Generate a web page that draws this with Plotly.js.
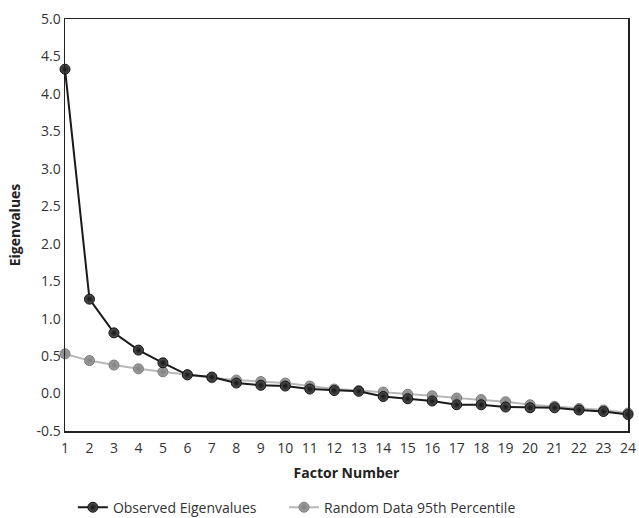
<!DOCTYPE html>
<html>
<head>
<meta charset="utf-8">
<script src="https://cdn.plot.ly/plotly-3.0.1.min.js"></script>
<style>html,body{margin:0;padding:0;background:#fff;}</style>
</head>
<body>
<div id="chart" style="width:639px;height:518px;"></div>
<script>
const factors = [1,2,3,4,5,6,7,8,9,10,11,12,13,14,15,16,17,18,19,20,21,22,23,24];
const observed = [4.33,1.26,0.81,0.58,0.41,0.25,0.22,0.14,0.11,0.10,0.06,0.04,0.03,-0.04,-0.07,-0.10,-0.15,-0.15,-0.18,-0.19,-0.19,-0.22,-0.24,-0.28];
const random95 = [0.53,0.44,0.38,0.33,0.29,0.25,0.21,0.18,0.16,0.14,0.10,0.06,0.04,0.02,-0.01,-0.03,-0.06,-0.08,-0.11,-0.15,-0.17,-0.20,-0.22,-0.26];
const yTicks = [-0.5,0,0.5,1,1.5,2,2.5,3,3.5,4,4.5,5];

const traces = [
  {
    x: factors, y: random95, name: 'Random Data 95th Percentile', legend: 'legend2',
    type: 'scatter', mode: 'lines+markers', cliponaxis: false,
    line: {color: '#b8b8b8', width: 2},
    marker: {size: 10, color: '#a0a0a0', line: {color: '#7a7a7a', width: 1},
             gradient: {type: 'radial', color: '#808080'}}
  },
  {
    x: factors, y: observed, name: 'Observed Eigenvalues', legend: 'legend',
    type: 'scatter', mode: 'lines+markers', cliponaxis: false,
    line: {color: '#1a1a1a', width: 2},
    marker: {size: 10, color: '#555555', line: {color: '#111', width: 1},
             gradient: {type: 'radial', color: '#111111'}}
  }
];

const legendStyle = {orientation: 'h', xref: 'paper', yref: 'paper', xanchor: 'left',
                     y: -0.186, yanchor: 'middle', font: {size: 14, color: '#333'}, itemwidth: 30};

const layout = {
  width: 639, height: 518,
  margin: {l: 65, r: 11, t: 19, b: 87, autoexpand: false},
  paper_bgcolor: '#fff', plot_bgcolor: '#fff',
  font: {family: 'Open Sans, sans-serif', size: 14, color: '#333'},
  showlegend: true,
  legend: Object.assign({}, legendStyle, {x: 0.014}),
  legend2: Object.assign({}, legendStyle, {x: 0.389}),
  xaxis: {
    range: [1, 24], tickmode: 'array', tickvals: factors, ticktext: factors.map(String),
    showgrid: false, zeroline: false, showline: true, linecolor: '#222', linewidth: 1.5,
    mirror: true, ticks: '', ticklabelstandoff: 4, tickfont: {size: 14, color: '#333'},
    title: {text: 'Factor Number', font: {size: 14, color: '#222', weight: 'bold'}, standoff: 12}
  },
  yaxis: {
    range: [-0.5, 5], tickmode: 'array', tickvals: yTicks, ticktext: yTicks.map(v => v.toFixed(1)),
    showgrid: false, zeroline: false, showline: true, linecolor: '#222', linewidth: 1.5,
    mirror: true, ticks: '', tickfont: {size: 14, color: '#333'},
    title: {text: 'Eigenvalues', font: {size: 14, color: '#222', weight: 'bold'}, standoff: 12}
  }
};

Plotly.newPlot('chart', traces, layout, {displayModeBar: false, staticPlot: true});
</script>
</body>
</html>
